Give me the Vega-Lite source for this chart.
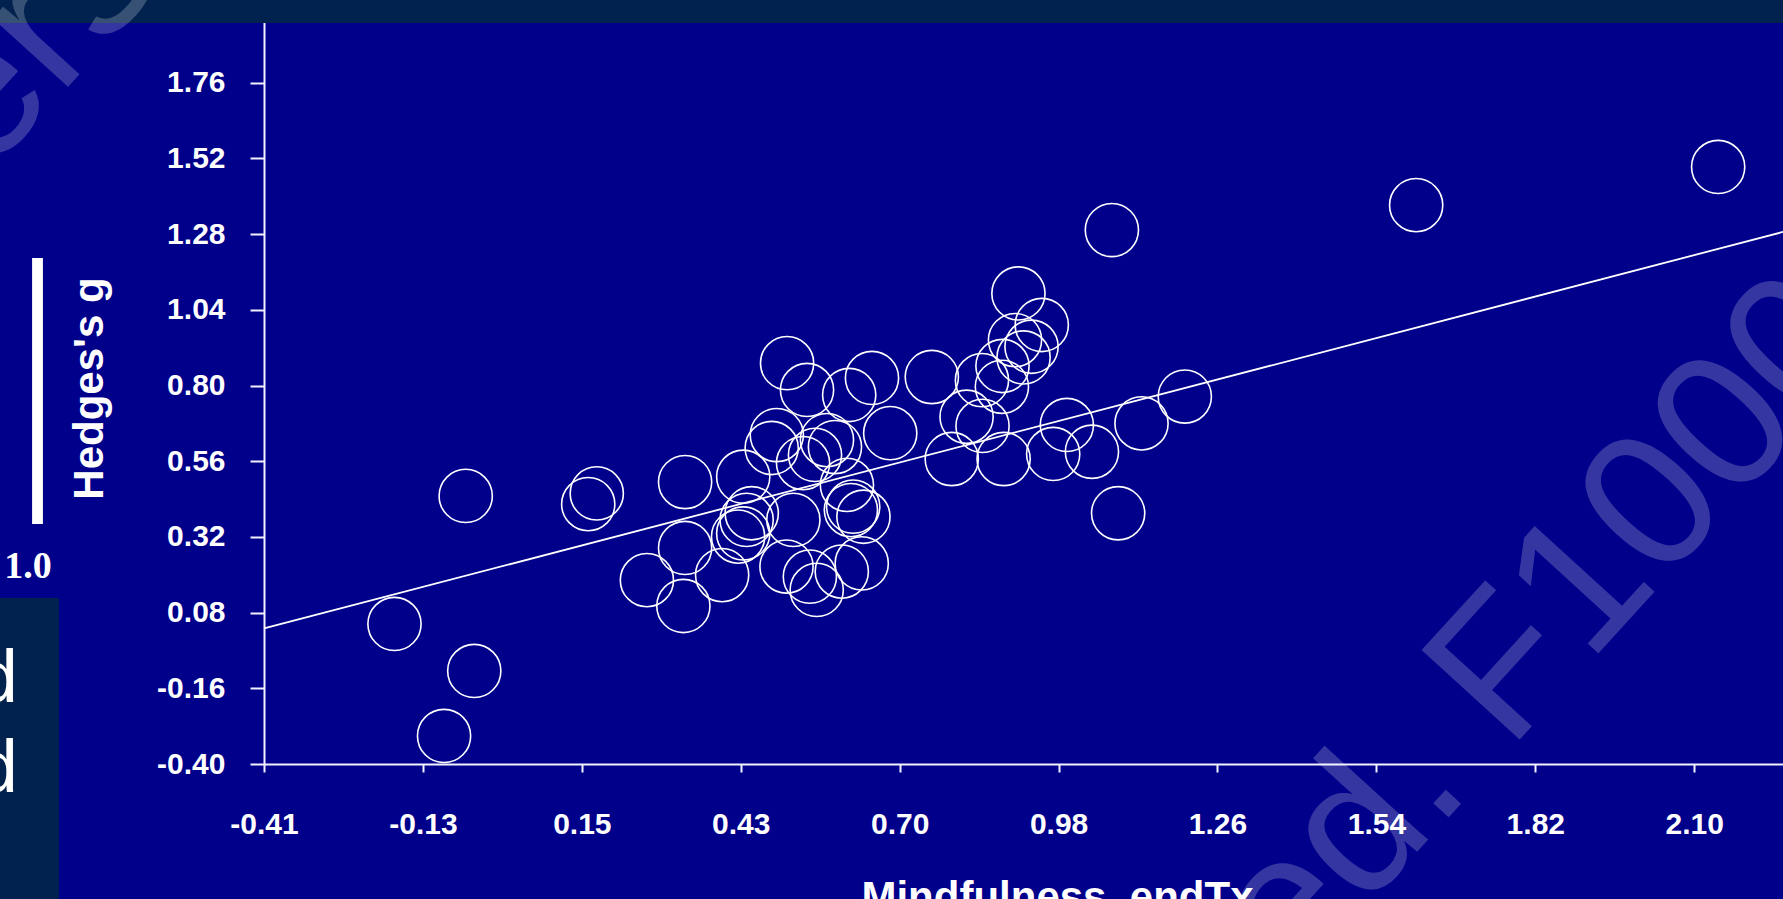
{
  "$schema": "https://vega.github.io/schema/vega-lite/v6.json",
  "width": 1519,
  "height": 764,
  "autosize": "none",
  "padding": {"left": 264, "top": 0, "right": 0, "bottom": 135},
  "background": "#00008B",
  "config": {
    "view": {"stroke": null},
    "axisX": {
      "domainColor": "#F2F2FF", "domainWidth": 2, "tickColor": "#F2F2FF", "tickWidth": 2, "tickSize": 8,
      "labelColor": "#ffffff", "labelFont": "Liberation Sans", "labelFontWeight": "bold", "labelFontSize": 30,
      "labelPadding": 37, "labelFlush": false, "labelOverlap": false, "grid": false,
      "titleColor": "#ffffff", "titleFont": "Liberation Sans", "titleFontWeight": "bold", "titleFontSize": 42
    },
    "axisY": {
      "domainColor": "#F2F2FF", "domainWidth": 2, "tickColor": "#F2F2FF", "tickWidth": 2, "tickSize": 14,
      "labelColor": "#ffffff", "labelFont": "Liberation Sans", "labelFontWeight": "bold", "labelFontSize": 30,
      "labelPadding": 25, "labelFlush": false, "labelOverlap": false, "grid": false,
      "titleColor": "#ffffff", "titleFont": "Liberation Sans", "titleFontWeight": "bold", "titleFontSize": 42
    }
  },
  "data": {
    "values": [
      {"x": -0.181, "y": 0.044}, {"x": -0.056, "y": 0.450}, {"x": -0.041, "y": -0.105}, {"x": -0.094, "y": -0.311},
      {"x": 0.174, "y": 0.458}, {"x": 0.159, "y": 0.424},
      {"x": 0.329, "y": 0.494}, {"x": 0.329, "y": 0.285}, {"x": 0.262, "y": 0.183}, {"x": 0.326, "y": 0.101},
      {"x": 0.394, "y": 0.199}, {"x": 0.431, "y": 0.511}, {"x": 0.481, "y": 0.602}, {"x": 0.490, "y": 0.643},
      {"x": 0.508, "y": 0.871}, {"x": 0.543, "y": 0.786}, {"x": 0.617, "y": 0.770}, {"x": 0.657, "y": 0.824},
      {"x": 0.762, "y": 0.827}, {"x": 0.689, "y": 0.649}, {"x": 0.578, "y": 0.627}, {"x": 0.592, "y": 0.605},
      {"x": 0.536, "y": 0.554}, {"x": 0.613, "y": 0.485}, {"x": 0.620, "y": 0.405}, {"x": 0.642, "y": 0.384},
      {"x": 0.437, "y": 0.374}, {"x": 0.431, "y": 0.331}, {"x": 0.446, "y": 0.395}, {"x": 0.422, "y": 0.321},
      {"x": 0.507, "y": 0.226}, {"x": 0.519, "y": 0.374}, {"x": 0.560, "y": 0.152}, {"x": 0.604, "y": 0.210},
      {"x": 0.639, "y": 0.236}, {"x": 0.624, "y": 0.416}, {"x": 0.548, "y": 0.194}, {"x": 0.557, "y": 0.580},
      {"x": 0.914, "y": 1.092}, {"x": 0.955, "y": 0.992}, {"x": 0.908, "y": 0.944}, {"x": 0.923, "y": 0.889},
      {"x": 0.886, "y": 0.862}, {"x": 0.885, "y": 0.796}, {"x": 0.850, "y": 0.817}, {"x": 0.823, "y": 0.701},
      {"x": 0.851, "y": 0.672}, {"x": 0.797, "y": 0.567}, {"x": 0.888, "y": 0.567}, {"x": 0.975, "y": 0.583},
      {"x": 0.999, "y": 0.675}, {"x": 1.043, "y": 0.590}, {"x": 1.130, "y": 0.680}, {"x": 1.206, "y": 0.765},
      {"x": 1.089, "y": 0.395}, {"x": 1.078, "y": 1.293}, {"x": 1.612, "y": 1.372}, {"x": 2.142, "y": 1.493},
      {"x": 0.937, "y": 0.923}
    ]
  },
  "layer": [
    {
      "data": {"values": [{}]},
      "mark": {"type": "rect", "color": "#01224E"},
      "encoding": {
        "x": {"datum": -2, "type": "quantitative", "scale": {"domain": [-0.41, 2.2558], "nice": false, "zero": false}},
        "x2": {"datum": 4},
        "y": {"datum": 1.9494, "type": "quantitative", "scale": {"domain": [-0.40, 2.0224], "nice": false, "zero": false}},
        "y2": {"datum": 3}
      }
    },
    {
      "data": {"values": [{}]},
      "mark": {"type": "rect", "color": "#01224E"},
      "encoding": {
        "x": {"datum": -2, "type": "quantitative", "scale": {"domain": [-0.41, 2.2558], "nice": false, "zero": false}},
        "x2": {"datum": -0.770},
        "y": {"datum": -2, "type": "quantitative", "scale": {"domain": [-0.40, 2.0224], "nice": false, "zero": false}},
        "y2": {"datum": 0.1263}
      }
    },
    {
      "data": {"values": [{}]},
      "mark": {"type": "rect", "color": "#ffffff"},
      "encoding": {
        "x": {"datum": -0.817, "type": "quantitative", "scale": {"domain": [-0.41, 2.2558], "nice": false, "zero": false}},
        "x2": {"datum": -0.798},
        "y": {"datum": 0.361, "type": "quantitative", "scale": {"domain": [-0.40, 2.0224], "nice": false, "zero": false}},
        "y2": {"datum": 1.204}
      }
    },
    {
      "data": {"values": [{}]},
      "mark": {"type": "text", "text": "1.0", "font": "Liberation Serif", "fontWeight": "bold", "fontSize": 38, "color": "#ffffff", "align": "left", "baseline": "alphabetic"},
      "encoding": {
        "x": {"datum": -0.866, "type": "quantitative", "scale": {"domain": [-0.41, 2.2558], "nice": false, "zero": false}},
        "y": {"datum": 0.190, "type": "quantitative", "scale": {"domain": [-0.40, 2.0224], "nice": false, "zero": false}}
      }
    },
    {
      "data": {"values": [{}]},
      "mark": {"type": "text", "text": "d", "font": "Liberation Sans", "fontSize": 74, "color": "#ffffff", "align": "right", "baseline": "alphabetic"},
      "encoding": {
        "x": {"datum": -0.842, "type": "quantitative", "scale": {"domain": [-0.41, 2.2558], "nice": false, "zero": false}},
        "y": {"datum": -0.203, "type": "quantitative", "scale": {"domain": [-0.40, 2.0224], "nice": false, "zero": false}}
      }
    },
    {
      "data": {"values": [{}]},
      "mark": {"type": "text", "text": "d", "font": "Liberation Sans", "fontSize": 74, "color": "#ffffff", "align": "right", "baseline": "alphabetic"},
      "encoding": {
        "x": {"datum": -0.842, "type": "quantitative", "scale": {"domain": [-0.41, 2.2558], "nice": false, "zero": false}},
        "y": {"datum": -0.489, "type": "quantitative", "scale": {"domain": [-0.40, 2.0224], "nice": false, "zero": false}}
      }
    },
    {
      "data": {"values": [{"x": -0.41, "y": 0.03}, {"x": 2.2558, "y": 1.287}]},
      "mark": {"type": "line", "color": "#ffffff", "strokeWidth": 1.8},
      "encoding": {
        "x": {"field": "x", "type": "quantitative", "title": "Mindfulness_endTx", "scale": {"domain": [-0.41, 2.2558], "nice": false, "zero": false}},
        "y": {"field": "y", "type": "quantitative", "title": "Hedges's g", "scale": {"domain": [-0.40, 2.0224], "nice": false, "zero": false}}
      }
    },
    {
      "mark": {"type": "point", "shape": "circle", "filled": false, "color": "#ffffff", "strokeWidth": 1.6, "size": 2830, "opacity": 1},
      "encoding": {
        "x": {
          "field": "x", "type": "quantitative", "title": "Mindfulness_endTx",
          "scale": {"domain": [-0.41, 2.2558], "nice": false, "zero": false},
          "axis": {
            "values": [-0.41, -0.131111, 0.147778, 0.426667, 0.705556, 0.984444, 1.263333, 1.542222, 1.821111, 2.1],
            "labelExpr": "datum.value > 0.7 && datum.value < 0.71 ? '0.70' : replace(format(datum.value, '.2f'), '\u2212', '-')",
            "titleX": 793, "titleY": 146, "titleBaseline": "alphabetic", "titleAlign": "center"
          }
        },
        "y": {
          "field": "y", "type": "quantitative", "title": "Hedges's g",
          "scale": {"domain": [-0.40, 2.0224], "nice": false, "zero": false},
          "axis": {
            "values": [-0.40, -0.16, 0.08, 0.32, 0.56, 0.80, 1.04, 1.28, 1.52, 1.76],
            "labelExpr": "replace(format(datum.value, '.2f'), '\u2212', '-')",
            "titleX": -162, "titleY": 388, "titleAngle": 270, "titleBaseline": "alphabetic", "titleAlign": "center"
          }
        }
      }
    },
    {
      "data": {"values": [{}]},
      "mark": {"type": "text", "text": "ed. F1000", "font": "Liberation Sans", "fontSize": 193, "color": "#ffffff", "opacity": 0.21, "angle": 312.4, "align": "left", "baseline": "alphabetic"},
      "encoding": {
        "x": {"datum": 1.394, "type": "quantitative", "scale": {"domain": [-0.41, 2.2558], "nice": false, "zero": false}},
        "y": {"datum": -1.113, "type": "quantitative", "scale": {"domain": [-0.40, 2.0224], "nice": false, "zero": false}}
      }
    },
    {
      "data": {"values": [{}]},
      "mark": {"type": "text", "text": "ers", "font": "Liberation Sans", "fontSize": 193, "color": "#ffffff", "opacity": 0.21, "angle": 312.4, "align": "left", "baseline": "alphabetic"},
      "encoding": {
        "x": {"datum": -0.897, "type": "quantitative", "scale": {"domain": [-0.41, 2.2558], "nice": false, "zero": false}},
        "y": {"datum": 1.464, "type": "quantitative", "scale": {"domain": [-0.40, 2.0224], "nice": false, "zero": false}}
      }
    }
  ]
}
